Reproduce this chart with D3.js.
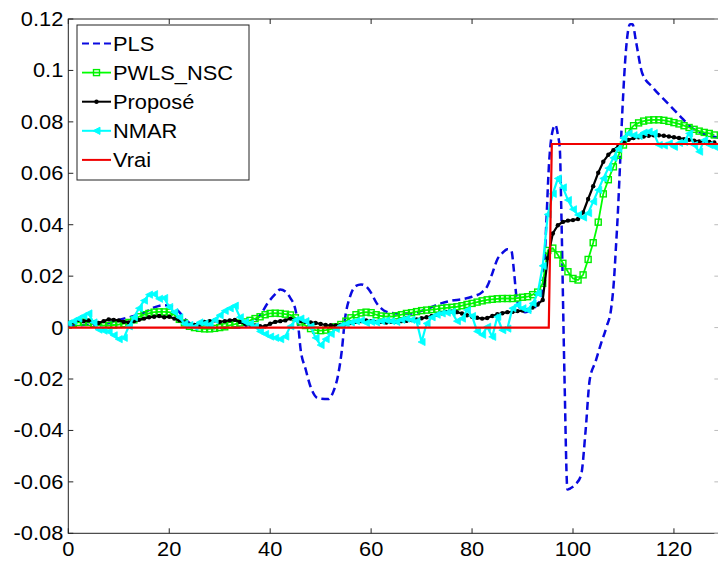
<!DOCTYPE html>
<html><head><meta charset="utf-8">
<script src="https://cdn.jsdelivr.net/npm/d3@7"></script>
<style>
html,body{margin:0;padding:0;background:#fff;}
svg{display:block;font-family:"Liberation Sans",Arial,Helvetica,sans-serif;}
</style></head>
<body><svg id="c" width="718" height="561"></svg>
<script>
// ---- data ----
const seriesNames = ["PLS","PWLS_NSC","Proposé","NMAR","Vrai"];
const xTicks = [0,20,40,60,80,100,120];
const xTickLabels = ["0","20","40","60","80","100","120"];
const yTicks = [0.12,0.1,0.08,0.06,0.04,0.02,0,-0.02,-0.04,-0.06,-0.08];
const yTickLabels = ["0.12","0.1","0.08","0.06","0.04","0.02","0","-0.02","-0.04","-0.06","-0.08"];

// sample index for the markered series
const sampleX = d3.range(0, 129);

const pwlsY = [
0.001,0.0015,0.002,0.0022,0.002,0.0015,0.001,0.0008,0.0008,0.001,
0.0012,0.0015,0.002,0.003,0.0042,0.005,0.0055,0.006,0.0061,0.0061,
0.006,0.005,0.0032,0.0018,0.0005,0,-0.0003,-0.0005,-0.0005,-0.0003,
0,0.0003,0.0009,0.0013,0.0018,0.0022,0.0028,0.0035,0.0042,0.005,
0.0055,0.0056,0.0055,0.0052,0.0049,0.0038,0.0022,0.0008,-0.0004,-0.001,
-0.0012,-0.001,-0.0006,0.0003,0.0012,0.0025,0.0038,0.005,0.0057,0.006,
0.0058,0.005,0.0045,0.0043,0.0043,0.0046,0.005,0.0055,0.0058,0.0062,
0.0066,0.0068,0.007,0.0072,0.0075,0.0077,0.0079,0.0081,0.0085,0.009,
0.0094,0.0099,0.0104,0.0108,0.011,0.0112,0.0113,0.0113,0.0113,0.0115,
0.0118,0.012,0.0128,0.0138,0.0172,0.030,0.0309,0.0283,0.025,0.0217,
0.0191,0.0185,0.0205,0.0265,0.033,0.041,0.052,0.0575,0.0625,0.067,
0.071,0.0762,0.0785,0.0796,0.0803,0.0807,0.0808,0.0808,0.0806,0.0802,
0.0797,0.0792,0.0785,0.0778,0.0771,0.0764,0.0759,0.0755,0.0749];

const proposeY = [
0.0015,0.002,0.003,0.0025,0.0028,0.002,0.0018,0.0025,0.0032,0.003,
0.0028,0.0022,0.002,0.0025,0.003,0.0035,0.004,0.0042,0.0045,0.004,
0.0042,0.0035,0.0028,0.002,0.0012,0.001,0.0015,0.0022,0.0025,0.0028,
0.0022,0.0025,0.0028,0.003,0.0022,0.0015,0.0012,0.0008,0.0005,0.0005,
0.0015,0.0022,0.0025,0.0028,0.0035,0.003,0.0025,0.0022,0.002,0.0018,
0.0014,0.001,0.0009,0.0008,0.001,0.0015,0.0018,0.0022,0.0025,0.0028,
0.0025,0.0022,0.0022,0.002,0.0022,0.0022,0.0025,0.0026,0.0029,0.0032,
0.0036,0.004,0.0045,0.005,0.0056,0.0061,0.0062,0.006,0.0055,0.0048,
0.0042,0.0038,0.0035,0.0037,0.0045,0.0052,0.0056,0.006,0.0061,0.0064,
0.0066,0.0069,0.0078,0.009,0.0107,0.027,0.0366,0.0398,0.0411,0.0416,
0.0418,0.0422,0.0448,0.05,0.055,0.0602,0.0645,0.0672,0.069,0.0706,
0.072,0.073,0.0737,0.074,0.0743,0.0746,0.0748,0.0748,0.0746,0.0743,
0.074,0.0737,0.0733,0.073,0.0727,0.0724,0.0722,0.0722,0.072];

const nmarY = [
0.0016,0.0025,0.0035,0.0045,0.0055,0.002,-0.0008,-0.0012,-0.0016,-0.003,
-0.0045,-0.004,0.0005,0.004,0.0075,0.0105,0.0128,0.013,0.0112,0.0115,
0.008,0.006,0.004,0.0015,0.001,0.0003,0.002,0.0016,0.0012,0.003,
0.0048,0.0065,0.0075,0.0085,0.004,0.0022,0.0015,0.0005,-0.0015,-0.0025,
-0.0035,-0.004,-0.0045,-0.0035,0.0005,0.003,0.0035,0.0025,0.0005,-0.004,
-0.0068,-0.0045,-0.0025,-0.0005,0.0008,0.0015,0.002,0.0025,0.0028,0.0018,
0.0022,0.002,0.0025,0.0028,0.0025,0.0022,0.003,0.0035,0.003,0.0025,
-0.0056,0.0016,0.004,0.005,0.0055,0.0058,0.0061,0.0025,0.0035,0.0068,
0.0045,-0.0015,-0.0028,0.0003,-0.0036,0.0042,-0.001,-0.0004,0.0075,0.0088,
0.0075,0.0068,0.0094,0.0133,0.024,0.044,0.052,0.058,0.0545,0.0496,
0.046,0.0438,0.0428,0.0445,0.049,0.0535,0.058,0.062,0.066,0.0695,
0.0738,0.0755,0.0748,0.0745,0.0758,0.0762,0.0756,0.071,0.0708,0.0716,
0.0703,0.0718,0.0722,0.0755,0.071,0.0684,0.0729,0.071,0.0703];

const plsX = [0,3,6,8,10,13,15,17,18.7,20.5,22,23,24.5,26,28,30,32,34,36,38,39.5,41,42,43,44,45,45.6,46,47,48,49.5,51.5,52.5,53.5,54.2,54.8,55.8,57,58,59,60,61,62,63,65,68,70,72,74,76,78,80,82,83,84,85,86,87,87.8,88.3,88.8,89.5,90.5,91.5,92.5,93.5,94.2,94.7,95.2,95.8,96.5,97,97.4,97.7,98.3,98.9,99.5,100.5,101.6,102.5,103.3,104.5,105.5,106.6,107.6,108.1,108.5,108.9,109.2,109.8,110.5,111.3,111.8,112.5,113.7,115.7,118.5,121,123.6,126.4,129];
const plsY = [0.0005,0.001,0.0012,0.0017,0.003,0.0045,0.0058,0.0078,0.0087,0.0082,0.006,0.0035,0.0012,0.0003,0,-0.0002,0,0,0.0015,0.0048,0.0095,0.013,0.0148,0.014,0.0115,0.007,0,-0.008,-0.016,-0.023,-0.0275,-0.0278,-0.025,-0.018,-0.0088,0.003,0.0119,0.0162,0.0168,0.016,0.0135,0.0098,0.0075,0.0062,0.0055,0.0055,0.0065,0.008,0.0095,0.0105,0.011,0.012,0.0138,0.016,0.021,0.0265,0.029,0.0305,0.0298,0.022,0.012,0.0075,0.006,0.0065,0.008,0.011,0.02,0.04,0.062,0.075,0.0788,0.075,0.069,0.044,-0.018,-0.063,-0.0625,-0.061,-0.0574,-0.04,-0.0205,-0.013,-0.0065,0,0.008,0.018,0.031,0.045,0.058,0.085,0.108,0.118,0.118,0.111,0.099,0.0936,0.0878,0.0827,0.0776,0.075,0.0738];

const vraiX = [0,95.2,95.8,129];
const vraiY = [0,0,0.0714,0.0714];

// ---- layout ----
const svg = d3.select("#c");
const X0 = 68.3, XR = 68.3 + 129*5.047;
const x = d3.scaleLinear().domain([0,129]).range([X0, XR]);
const y = d3.scaleLinear().domain([-0.08,0.12]).range([533.3,19]);
const FS = 19.5, SX = 1.12;

svg.append("defs").append("clipPath").attr("id","clip")
  .append("rect").attr("x",X0).attr("y",19).attr("width",XR-X0).attr("height",533.3-19);

// axes box
const ax = svg.append("g").attr("stroke","#222").attr("stroke-width",1).attr("fill","none");
ax.append("rect").attr("x",X0).attr("y",19).attr("width",XR-X0).attr("height",533.3-19);
xTicks.forEach(t=>{
  ax.append("line").attr("x1",x(t)).attr("x2",x(t)).attr("y1",533.3).attr("y2",528.3);
  ax.append("line").attr("x1",x(t)).attr("x2",x(t)).attr("y1",19).attr("y2",24);
});
yTicks.forEach(t=>{
  ax.append("line").attr("x1",X0).attr("x2",X0+5).attr("y1",y(t)).attr("y2",y(t));
  ax.append("line").attr("x1",XR).attr("x2",XR-5).attr("y1",y(t)).attr("y2",y(t)).attr("stroke","#bbb");
});

// tick labels
xTicks.forEach((t,i)=>{
  svg.append("text").attr("transform",`translate(${x(t)},${555.5}) scale(${SX},1)`)
    .attr("text-anchor","middle").attr("font-size",FS).attr("fill","#000").text(xTickLabels[i]);
});
yTicks.forEach((t,i)=>{
  svg.append("text").attr("transform",`translate(${X0-5},${y(t)+7}) scale(${SX},1)`)
    .attr("text-anchor","end").attr("font-size",FS).attr("fill","#000").text(yTickLabels[i]);
});

const plot = svg.append("g").attr("clip-path","url(#clip)");
const line = d3.line().x(d=>x(d[0])).y(d=>y(d[1]));

// PLS
const plsData = plsX.map((v,i)=>[v,plsY[i]]);
plot.append("path").datum(plsData).attr("d",line.curve(d3.curveMonotoneX))
  .attr("fill","none").attr("stroke","#0a0ae0").attr("stroke-width",2.5).attr("stroke-dasharray","8,4.5");
line.curve(d3.curveLinear);

// PWLS_NSC
const pwData = sampleX.map((v,i)=>[v,pwlsY[i]]);
plot.append("path").datum(pwData).attr("d",line).attr("fill","none").attr("stroke","#00ff00").attr("stroke-width",1.8);
plot.selectAll(".sq").data(pwData).enter().append("rect")
  .attr("x",d=>x(d[0])-3).attr("y",d=>y(d[1])-3).attr("width",6).attr("height",6)
  .attr("fill","none").attr("stroke","#00ee00").attr("stroke-width",1.4);

// Proposé
const prData = sampleX.map((v,i)=>[v,proposeY[i]]);
plot.append("path").datum(prData).attr("d",line).attr("fill","none").attr("stroke","#000").attr("stroke-width",2.2);
plot.selectAll(".dt").data(prData).enter().append("circle")
  .attr("cx",d=>x(d[0])).attr("cy",d=>y(d[1])).attr("r",2.2).attr("fill","#000");

// NMAR
const nmData = sampleX.map((v,i)=>[v,nmarY[i]]);
plot.append("path").datum(nmData).attr("d",line).attr("fill","none").attr("stroke","#00ffff").attr("stroke-width",2.2);
const tri = "M-3.5,0L3.5,-3.6L3.5,3.6Z";
plot.selectAll(".tr").data(nmData).enter().append("path")
  .attr("d",tri).attr("transform",d=>`translate(${x(d[0])},${y(d[1])})`)
  .attr("fill","#00ffff").attr("stroke","#00ffff").attr("stroke-width",0.8);

// Vrai
const vrData = vraiX.map((v,i)=>[v,vraiY[i]]);
plot.append("path").datum(vrData).attr("d",line).attr("fill","none").attr("stroke","#f00000").attr("stroke-width",2.2);

// legend
const lg = svg.append("g");
lg.append("rect").attr("x",77).attr("y",25).attr("width",172).attr("height",155)
  .attr("fill","#fff").attr("stroke","#222").attr("stroke-width",1);
const rowY = i => 43.5 + i*29.1;
const styles = [
  {c:"#0a0ae0",w:2.2,dash:"7,4"},
  {c:"#00ff00",w:1.8},
  {c:"#000",w:2},
  {c:"#00ffff",w:2},
  {c:"#f00000",w:2}
];
seriesNames.forEach((n,i)=>{
  const yy = rowY(i), st = styles[i];
  const ln = lg.append("line").attr("x1",82).attr("x2",111).attr("y1",yy).attr("y2",yy)
    .attr("stroke",st.c).attr("stroke-width",st.w);
  if(st.dash) ln.attr("stroke-dasharray",st.dash);
  if(i===1) lg.append("rect").attr("x",93.5).attr("y",yy-3).attr("width",6).attr("height",6)
      .attr("fill","none").attr("stroke","#00ee00").attr("stroke-width",1.4);
  if(i===2) lg.append("circle").attr("cx",96.5).attr("cy",yy).attr("r",2.2).attr("fill","#000");
  if(i===3) lg.append("path").attr("d",tri).attr("transform",`translate(96.5,${yy})`).attr("fill","#00ffff").attr("stroke","#00ffff");
  lg.append("text").attr("transform",`translate(113,${yy+7}) scale(${SX},1)`)
    .attr("font-size",FS).attr("fill","#000").text(n);
});
</script></body></html>
